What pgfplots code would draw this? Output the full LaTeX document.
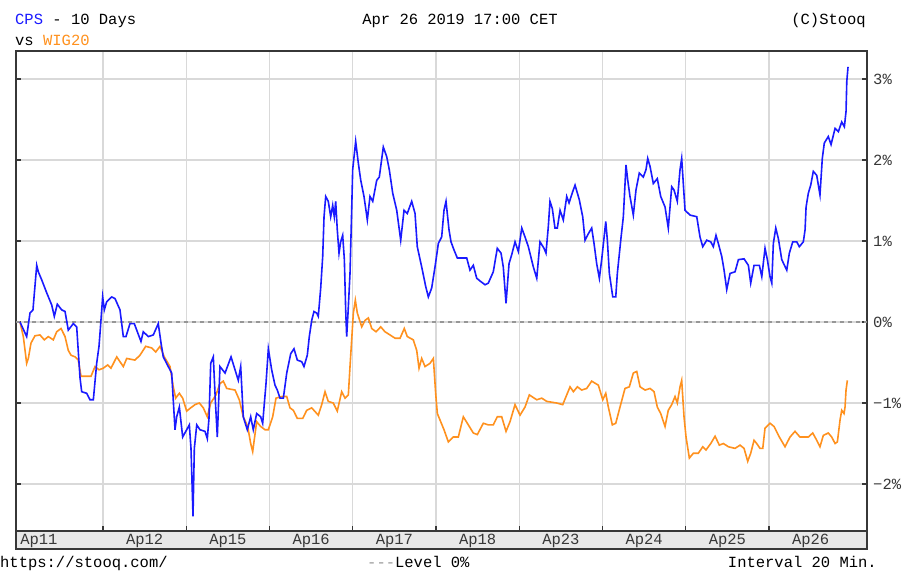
\documentclass[border=0pt]{standalone}
\usepackage{pgfplots}
\pgfplotsset{compat=1.18}
\usepackage{fontspec}
\setmainfont{Liberation Mono}
\definecolor{cpsblue}{RGB}{26,26,255}
\definecolor{wigorange}{RGB}{255,145,30}
\definecolor{gridgray}{RGB}{217,217,217}
\definecolor{framegray}{RGB}{55,55,55}
\definecolor{bandgray}{RGB}{232,232,232}
\definecolor{levelgray}{RGB}{150,150,150}
\newcommand{\chartfont}{\fontsize{15.5bp}{18bp}\selectfont}

\pgfplotstableread{
x y
0.003 0.00
0.083 -0.18
0.123 0.11
0.159 0.15
0.171 0.30
0.204 0.70
0.223 0.62
0.264 0.52
0.324 0.36
0.384 0.21
0.415 0.07
0.451 0.22
0.504 0.15
0.544 0.13
0.583 -0.10
0.643 -0.02
0.684 -0.06
0.724 -0.69
0.744 -0.86
0.804 -0.88
0.844 -0.96
0.884 -0.96
0.924 -0.51
0.952 -0.30
0.964 -0.14
0.996 0.31
1.016 0.15
1.044 0.25
1.105 0.31
1.144 0.29
1.204 0.15
1.244 -0.18
1.276 -0.18
1.324 -0.02
1.376 -0.02
1.405 -0.10
1.456 -0.24
1.484 -0.12
1.544 -0.18
1.604 -0.16
1.664 -0.02
1.697 -0.26
1.724 -0.43
1.784 -0.55
1.825 -0.63
1.865 -1.33
1.885 -1.17
1.917 -1.05
1.957 -1.42
2.005 -1.33
2.037 -1.27
2.057 -1.56
2.073 -2.11
2.081 -2.40
2.097 -1.56
2.126 -1.27
2.165 -1.33
2.225 -1.35
2.253 -1.44
2.273 -1.19
2.294 -0.51
2.325 -0.43
2.349 -0.96
2.373 -1.42
2.405 -0.55
2.466 -0.63
2.538 -0.43
2.586 -0.59
2.625 -0.72
2.654 -0.55
2.685 -1.17
2.733 -1.33
2.774 -1.17
2.805 -1.33
2.846 -1.13
2.894 -1.17
2.918 -1.25
2.958 -0.76
2.986 -0.33
3.026 -0.59
3.066 -0.78
3.094 -0.84
3.126 -0.94
3.166 -0.94
3.207 -0.63
3.255 -0.39
3.294 -0.33
3.334 -0.47
3.387 -0.49
3.414 -0.55
3.454 -0.41
3.478 -0.18
3.507 0.02
3.534 0.13
3.567 0.11
3.586 0.07
3.615 0.42
3.639 0.81
3.655 1.30
3.675 1.55
3.706 1.49
3.735 1.30
3.759 1.44
3.778 1.30
3.795 1.49
3.814 1.14
3.835 0.85
3.855 0.99
3.879 1.07
3.899 0.77
3.915 0.15
3.927 -0.18
3.943 0.11
3.967 0.60
3.987 1.38
3.999 1.88
4.035 2.23
4.067 1.96
4.096 1.75
4.135 1.55
4.175 1.26
4.207 1.55
4.240 1.49
4.288 1.75
4.319 1.79
4.367 2.16
4.408 2.04
4.439 1.88
4.480 1.59
4.528 1.38
4.576 1.01
4.616 1.38
4.655 1.34
4.708 1.49
4.748 1.34
4.775 0.93
4.828 0.68
4.876 0.44
4.908 0.31
4.948 0.42
4.988 0.68
5.028 0.97
5.068 1.05
5.096 1.38
5.120 1.49
5.156 1.14
5.180 0.99
5.216 0.89
5.256 0.79
5.369 0.79
5.408 0.64
5.448 0.70
5.489 0.54
5.537 0.50
5.589 0.46
5.628 0.48
5.688 0.62
5.736 0.91
5.781 0.85
5.808 0.68
5.841 0.23
5.877 0.72
5.909 0.83
5.949 0.99
5.989 0.87
6.030 1.16
6.069 1.05
6.109 0.93
6.169 0.68
6.210 0.54
6.249 0.99
6.297 0.91
6.321 0.85
6.349 1.18
6.369 1.49
6.397 1.40
6.429 1.16
6.457 1.16
6.490 1.38
6.529 1.26
6.570 1.55
6.598 1.47
6.642 1.61
6.670 1.69
6.721 1.51
6.762 1.30
6.790 1.01
6.830 1.09
6.870 1.16
6.898 0.97
6.930 0.72
6.962 0.54
6.990 0.77
7.039 1.24
7.058 1.01
7.082 0.60
7.123 0.31
7.159 0.31
7.178 0.60
7.219 1.01
7.250 1.30
7.282 1.94
7.303 1.75
7.330 1.55
7.370 1.32
7.402 1.63
7.442 1.84
7.490 1.79
7.522 1.88
7.543 2.02
7.571 1.92
7.610 1.71
7.658 1.77
7.699 1.55
7.751 1.42
7.790 1.16
7.831 1.67
7.859 1.63
7.898 1.49
7.931 1.88
7.951 2.02
7.991 1.38
8.051 1.32
8.132 1.30
8.171 1.05
8.204 0.93
8.252 1.01
8.300 0.99
8.331 0.93
8.363 1.07
8.391 0.97
8.432 0.81
8.460 0.64
8.492 0.40
8.532 0.60
8.592 0.62
8.632 0.77
8.700 0.78
8.752 0.70
8.780 0.48
8.820 0.70
8.884 0.70
8.913 0.56
8.952 0.91
8.980 0.77
9.012 0.56
9.033 0.48
9.052 0.97
9.081 1.16
9.112 1.03
9.153 0.77
9.213 0.64
9.244 0.85
9.285 0.99
9.333 0.99
9.364 0.93
9.412 0.99
9.433 1.14
9.445 1.42
9.472 1.59
9.501 1.69
9.532 1.86
9.573 1.81
9.612 1.57
9.640 2.02
9.664 2.21
9.712 2.29
9.745 2.19
9.793 2.39
9.833 2.35
9.873 2.47
9.905 2.41
9.925 2.60
9.934 2.97
9.949 3.15
}\cpsdata

\pgfplotstableread{
x y
0.003 0.00
0.043 -0.18
0.083 -0.51
0.103 -0.45
0.135 -0.26
0.183 -0.17
0.243 -0.16
0.295 -0.22
0.343 -0.18
0.403 -0.22
0.444 -0.12
0.496 -0.08
0.544 -0.18
0.583 -0.35
0.616 -0.41
0.664 -0.43
0.703 -0.47
0.736 -0.67
0.856 -0.67
0.904 -0.55
0.952 -0.59
1.004 -0.57
1.056 -0.53
1.096 -0.57
1.165 -0.43
1.204 -0.49
1.244 -0.55
1.285 -0.45
1.384 -0.47
1.444 -0.41
1.513 -0.30
1.585 -0.32
1.633 -0.37
1.685 -0.30
1.736 -0.43
1.805 -0.55
1.844 -0.80
1.873 -0.94
1.917 -0.88
1.957 -0.94
2.005 -1.10
2.053 -1.06
2.105 -1.02
2.157 -1.00
2.205 -1.06
2.253 -1.17
2.294 -1.00
2.357 -0.90
2.405 -0.76
2.445 -0.73
2.486 -0.82
2.586 -0.84
2.637 -0.96
2.685 -1.17
2.738 -1.29
2.774 -1.50
2.798 -1.60
2.846 -1.23
2.894 -1.29
2.946 -1.33
2.986 -1.33
3.038 -1.17
3.078 -0.94
3.147 -0.92
3.207 -0.92
3.246 -1.06
3.286 -1.09
3.334 -1.19
3.399 -1.19
3.447 -1.09
3.507 -1.06
3.586 -1.15
3.627 -1.02
3.667 -0.86
3.706 -0.98
3.766 -1.00
3.814 -1.10
3.867 -0.86
3.907 -0.94
3.947 -0.90
3.967 -0.55
3.987 -0.22
4.007 0.11
4.031 0.27
4.055 0.11
4.108 -0.06
4.147 0.02
4.187 0.05
4.228 -0.08
4.279 -0.12
4.336 -0.06
4.387 -0.12
4.448 -0.16
4.508 -0.20
4.568 -0.20
4.619 -0.08
4.655 -0.18
4.727 -0.22
4.768 -0.35
4.796 -0.57
4.828 -0.45
4.868 -0.55
4.928 -0.51
4.968 -0.45
4.996 -0.88
5.016 -1.13
5.048 -1.21
5.096 -1.33
5.148 -1.48
5.208 -1.42
5.268 -1.42
5.328 -1.17
5.388 -1.27
5.448 -1.37
5.496 -1.39
5.568 -1.25
5.628 -1.27
5.688 -1.27
5.736 -1.17
5.789 -1.17
5.841 -1.35
5.889 -1.23
5.949 -1.02
6.009 -1.15
6.069 -1.05
6.121 -0.90
6.210 -0.96
6.270 -0.94
6.330 -0.98
6.450 -1.00
6.522 -1.02
6.562 -0.92
6.610 -0.80
6.650 -0.86
6.698 -0.80
6.750 -0.84
6.810 -0.82
6.870 -0.73
6.950 -0.78
7.003 -0.96
7.039 -0.88
7.070 -1.05
7.118 -1.27
7.159 -1.25
7.210 -1.05
7.270 -0.82
7.322 -0.80
7.370 -0.63
7.411 -0.61
7.451 -0.80
7.511 -0.84
7.571 -0.82
7.619 -0.86
7.658 -1.05
7.699 -1.13
7.751 -1.29
7.790 -1.09
7.831 -1.02
7.871 -0.92
7.898 -1.00
7.931 -0.80
7.951 -0.72
7.979 -1.17
8.003 -1.42
8.043 -1.68
8.091 -1.62
8.151 -1.62
8.204 -1.54
8.243 -1.58
8.300 -1.50
8.352 -1.41
8.403 -1.52
8.452 -1.50
8.512 -1.54
8.592 -1.56
8.652 -1.52
8.700 -1.56
8.744 -1.72
8.780 -1.62
8.820 -1.46
8.852 -1.50
8.892 -1.56
8.925 -1.56
8.952 -1.31
9.012 -1.25
9.060 -1.29
9.124 -1.42
9.192 -1.54
9.252 -1.42
9.312 -1.35
9.372 -1.42
9.472 -1.42
9.525 -1.37
9.573 -1.46
9.612 -1.54
9.652 -1.40
9.712 -1.37
9.753 -1.42
9.793 -1.50
9.821 -1.48
9.853 -1.21
9.873 -1.09
9.901 -1.13
9.913 -1.05
9.925 -0.84
9.941 -0.72
}\wigdata

\begin{document}
\begin{tikzpicture}[x=1bp,y=1bp]
\path[use as bounding box] (0,0) rectangle (903,571);
\fill[bandgray] (16,22) rectangle (867,40);
\draw[framegray, line width=1.2bp] (16,22) rectangle (867,40);
\begin{axis}[
  at={(16bp,40bp)}, anchor=south west, scale only axis,
  width=851bp, height=480bp,
  xmin=-0.045, xmax=10.177, ymin=-2.58, ymax=3.346,
  axis line style={framegray, line width=1.2bp},
  xtick={1,...,9}, xticklabels={}, xmajorgrids,
  ytick={-2,-1,0,1,2,3},
  yticklabels={−2\%,−1\%,0\%,1\%,2\%,3\%},
  ymajorgrids,
  grid style={gridgray, line width=1.3bp},
  tick align=inside, major tick length=5bp,
  tick style={framegray, line width=1.2bp},
  xtick pos=lower, ytick pos=both, yticklabel pos=right,
  yticklabel style={anchor=west, inner sep=0pt, xshift=6bp, font=\chartfont, text=framegray},
  extra x ticks={0.23,1.5,2.5,3.5,4.5,5.5,6.5,7.5,8.5,9.5},
  extra x tick labels={Ap11,Ap12,Ap15,Ap16,Ap17,Ap18,Ap23,Ap24,Ap25,Ap26},
  extra x tick style={major tick length=0pt, grid=none,
     xticklabel style={anchor=base, inner sep=0pt, yshift=-14bp, font=\chartfont, text=framegray}},
]
\addplot[levelgray, line width=1.2bp, dash pattern=on 4bp off 4bp] coordinates {(-0.045,0) (10.177,0)};
\addplot[wigorange, line width=1.6bp, no markers] table[x=x,y=y] {\wigdata};
\addplot[cpsblue, line width=1.6bp, no markers] table[x=x,y=y] {\cpsdata};
\end{axis}
\begin{scope}[every node/.style={font=\chartfont, inner sep=0pt}]
\node[anchor=base west] at (15,546) {\textcolor{cpsblue}{CPS} - 10 Days};
\node[anchor=base west] at (15,525) {vs \textcolor{wigorange}{WIG20}};
\node[anchor=base] at (460,546) {Apr 26 2019 17:00 CET};
\node[anchor=base east] at (866,546) {(C)Stooq};
\node[anchor=base west] at (0,3) {https://stooq.com/};
\node[anchor=base west] at (367,3) {\textcolor{levelgray}{-{}-{}-}Level 0\%};
\node[anchor=base east] at (877,3) {Interval 20 Min.};
\end{scope}
\end{tikzpicture}
\end{document}
